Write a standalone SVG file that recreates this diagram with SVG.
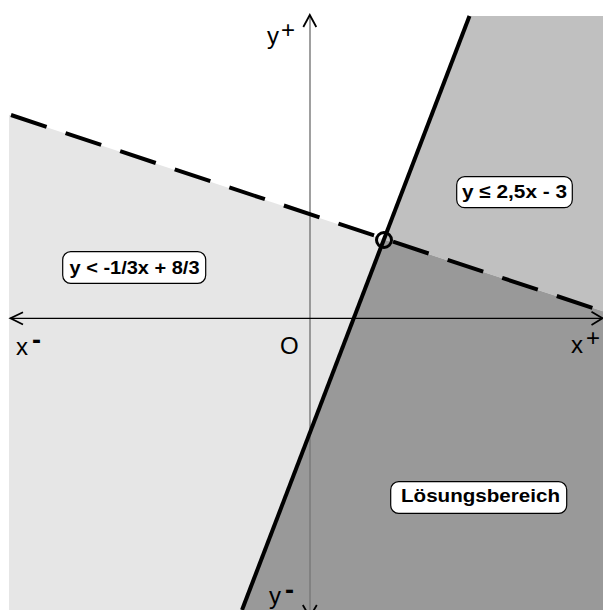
<svg xmlns="http://www.w3.org/2000/svg" width="603" height="610" viewBox="0 0 603 610">
<style>
.ax{font-family:"Liberation Sans",Arial,sans-serif;font-size:24px;fill:#000}
.sup{font-family:"Liberation Sans",Arial,sans-serif;font-size:27px;font-weight:bold;fill:#000}
.lbl{font-family:"Liberation Sans",Arial,sans-serif;font-size:19px;font-weight:bold;fill:#000}
.box{fill:#fff;stroke:#000;stroke-width:1.2}
.chev{fill:none;stroke:#000;stroke-width:1.8}
</style>
<rect width="603" height="610" fill="#fff"/>
<g id="regions">
<polygon points="9,114.7 384,239.5 242,610 9,610" fill="#e6e6e6"/>
<polygon points="469.5,16 603,16 603,311.3 384,239.5" fill="#c0c0c0"/>
<polygon points="384,239.5 603,311.3 603,610 242,610" fill="#999999"/>
</g>
<g id="connectors">
<line id="y-axis" x1="310" y1="16" x2="310" y2="610" stroke="#777" stroke-width="1.4"/>
<polyline class="chev" points="303.3,27 309.8,15 316.3,27"/>
<polyline class="chev" points="302.8,605 309.8,617 316.8,605"/>
<line id="x-axis" x1="10" y1="318.3" x2="603" y2="318.3" stroke="#000" stroke-width="1.2"/>
<polyline class="chev" points="23,312.3 10.5,318.3 23,324.5"/>
<polyline class="chev" points="591.5,311.8 602.5,318.3 591.5,325"/>
<line id="dashed" x1="11" y1="115" x2="593" y2="308" stroke="#000" stroke-width="4" stroke-dasharray="37.5 20"/>
<line id="solid" x1="469.5" y1="16" x2="242" y2="610" stroke="#000" stroke-width="4"/>
<circle id="intersection" cx="384" cy="240" r="7.5" fill="none" stroke="#000" stroke-width="3"/>
</g>
<g id="axis-labels">
<text class="ax" x="267" y="44">y</text><text class="ax" x="281" y="38">+</text>
<text class="ax" x="16" y="355">x</text><text class="sup" x="32" y="348.5">-</text>
<text class="ax" x="280" y="354">O</text>
<text class="ax" x="571" y="353.3">x</text><text class="ax" x="586" y="346">+</text>
<text class="ax" x="269" y="604">y</text><text class="sup" x="285" y="598.5">-</text>
</g>
<g id="label1">
<rect class="box" x="62.7" y="251.7" width="143" height="31.6" rx="8"/>
<text class="lbl" x="69.5" y="273.5" textLength="130" lengthAdjust="spacingAndGlyphs">y &lt; -1/3x + 8/3</text>
</g>
<g id="label2">
<rect class="box" x="456.7" y="176.7" width="115.6" height="31" rx="8"/>
<text class="lbl" x="462" y="197.5" textLength="105" lengthAdjust="spacingAndGlyphs">y ≤ 2,5x - 3</text>
</g>
<g id="label3">
<rect class="box" x="390.7" y="481.7" width="176" height="31.6" rx="8"/>
<text class="lbl" x="401" y="502" textLength="159" lengthAdjust="spacingAndGlyphs">Lösungsbereich</text>
</g>
</svg>
